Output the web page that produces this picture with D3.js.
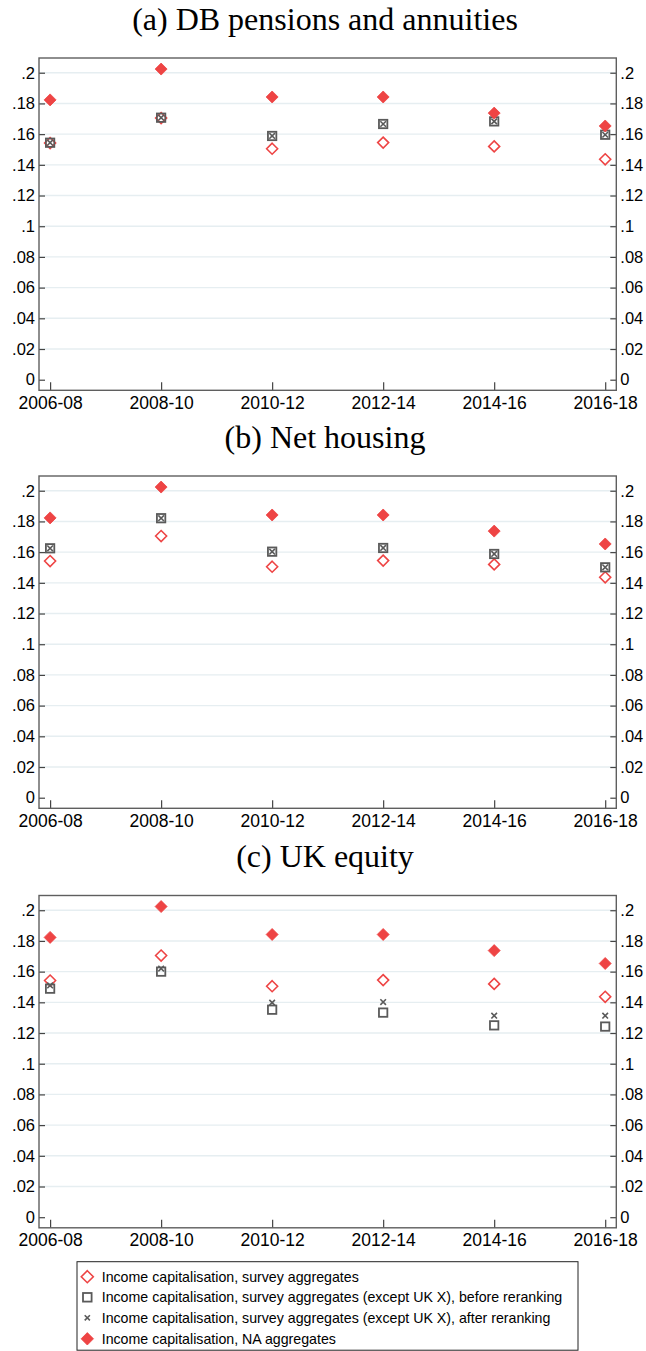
<!DOCTYPE html>
<html>
<head>
<meta charset="utf-8">
<script src="https://cdn.jsdelivr.net/npm/d3@7"></script>
<style>
  html, body { margin: 0; padding: 0; background: #fff; }
  svg { display: block; }
  .tick text { font-family: "Liberation Sans", Arial, sans-serif; fill: #000; }
</style>
</head>
<body>
<svg id="chart" width="646" height="1351"></svg>
<script>
// Period labels along the x axis
const periods = ["2006-08", "2008-10", "2010-12", "2012-14", "2014-16", "2016-18"];
// Y-axis tick values
const yTicks = [0, 0.02, 0.04, 0.06, 0.08, 0.1, 0.12, 0.14, 0.16, 0.18, 0.2];

// Series shared by all three panels
const surveyAgg = [0.1542, 0.1705, 0.1505, 0.1545, 0.1520, 0.1436];
const naAgg     = [0.1823, 0.2024, 0.1842, 0.1842, 0.1737, 0.1653];

// (a) DB pensions and annuities
const dbBefore = [0.1544, 0.1707, 0.1588, 0.1666, 0.1683, 0.1596];
const dbAfter  = [0.1544, 0.1707, 0.1588, 0.1666, 0.1683, 0.1596];
// (b) Net housing
const housingBefore = [0.1625, 0.1821, 0.1603, 0.1627, 0.1588, 0.1501];
const housingAfter  = [0.1625, 0.1821, 0.1603, 0.1627, 0.1588, 0.1501];
// (c) UK equity
const equityBefore = [0.1489, 0.1600, 0.1352, 0.1333, 0.1250, 0.1242];
const equityAfter  = [0.1510, 0.1620, 0.1398, 0.1402, 0.1313, 0.1313];

const panelTitles = ["(a) DB pensions and annuities", "(b) Net housing", "(c) UK equity"];
const legendLabels = [
  "Income capitalisation, survey aggregates",
  "Income capitalisation, survey aggregates (except UK X), before reranking",
  "Income capitalisation, survey aggregates (except UK X), after reranking",
  "Income capitalisation, NA aggregates"
];

const panels = [
  { title: panelTitles[0], before: dbBefore, after: dbAfter },
  { title: panelTitles[1], before: housingBefore, after: housingAfter },
  { title: panelTitles[2], before: equityBefore, after: equityAfter }
];

const RED = "#ee4444";
const GREY = "#5a5a5a";
const FRAME = "#5f5f5f";

const svg = d3.select("#chart");

const left = 39, right = 616.3, frameH = 332.3;
const tops = [58, 476, 895.5];

const x = d3.scaleLinear().domain([-0.1, 5.1]).range([left, right]);

const fmt = v => v === 0 ? "0" : v.toFixed(2).replace(/^0/, "").replace(/0$/, "");

// marker drawers
function diamond(g, cx, cy, r, filled) {
  g.append("path")
    .attr("d", `M${cx},${cy - r}L${cx + r},${cy}L${cx},${cy + r}L${cx - r},${cy}Z`)
    .attr("fill", filled ? RED : "none")
    .attr("stroke", RED)
    .attr("stroke-width", filled ? 0.8 : 1.6);
}
function square(g, cx, cy, h) {
  g.append("rect")
    .attr("x", cx - h).attr("y", cy - h)
    .attr("width", 2 * h).attr("height", 2 * h)
    .attr("fill", "none").attr("stroke", GREY).attr("stroke-width", 1.8);
}
function cross(g, cx, cy, h) {
  g.append("path")
    .attr("d", `M${cx - h},${cy - h}L${cx + h},${cy + h}M${cx - h},${cy + h}L${cx + h},${cy - h}`)
    .attr("fill", "none").attr("stroke", GREY).attr("stroke-width", 1.6);
}

panels.forEach((p, i) => {
  const top = tops[i], bottom = top + frameH;
  const y = d3.scaleLinear().domain([-0.0069, 0.2096]).range([bottom, top]);
  const g = svg.append("g");

  // panel title
  g.append("text")
    .attr("x", 325).attr("y", top - 28.5)
    .attr("text-anchor", "middle")
    .attr("font-family", "'Liberation Serif', 'Times New Roman', serif")
    .attr("font-size", 32)
    .text(p.title);

  // horizontal grid lines
  g.append("g").selectAll("line")
    .data(yTicks.filter(v => v > 0))
    .join("line")
    .attr("x1", left).attr("x2", right)
    .attr("y1", d => y(d)).attr("y2", d => y(d))
    .attr("stroke", "#e6eef1").attr("stroke-width", 1.4);

  // left axis
  const ya = g.append("g").attr("transform", `translate(${left},0)`)
    .call(d3.axisLeft(y).tickValues(yTicks).tickFormat(fmt).tickSize(-6).tickPadding(4));
  // right axis
  const yb = g.append("g").attr("transform", `translate(${right},0)`)
    .call(d3.axisRight(y).tickValues(yTicks).tickFormat(fmt).tickSize(-6).tickPadding(4));
  // bottom axis
  const xa = g.append("g").attr("transform", `translate(0,${bottom})`)
    .call(d3.axisBottom(x).tickValues(d3.range(periods.length)).tickFormat(d => periods[d]).tickSize(-8).tickPadding(6));

  [ya, yb, xa].forEach(a => {
    a.select(".domain").remove();
    a.selectAll(".tick line").attr("stroke", "#444").attr("stroke-width", 1.2);
  });
  ya.selectAll(".tick text").attr("font-size", 16.5);
  yb.selectAll(".tick text").attr("font-size", 16.5);
  xa.selectAll(".tick text").attr("font-size", 17.5);

  // frame
  g.append("rect")
    .attr("x", left).attr("y", top)
    .attr("width", right - left).attr("height", frameH)
    .attr("fill", "none").attr("stroke", FRAME).attr("stroke-width", 1.4);

  // markers, in legend order
  const m = g.append("g");
  surveyAgg.forEach((v, k) => diamond(m, x(k), y(v), 5.5, false));
  p.before.forEach((v, k) => square(m, x(k), y(v), 4.2));
  p.after.forEach((v, k) => cross(m, x(k), y(v), 2.8));
  naAgg.forEach((v, k) => diamond(m, x(k), y(v), 6, true));
});

// legend
const lg = svg.append("g");
lg.append("rect")
  .attr("x", 77).attr("y", 1261.7).attr("width", 501).attr("height", 88.5)
  .attr("fill", "#fff").attr("stroke", "#222").attr("stroke-width", 1);
const rowY = [1276.7, 1297.3, 1317.8, 1338.8];
const mx = 87.3;
diamond(lg, mx, rowY[0], 6, false);
square(lg, mx, rowY[1], 4.3);
cross(lg, mx, rowY[2], 2.6);
diamond(lg, mx, rowY[3], 6.2, true);
lg.selectAll("text.lab").data(legendLabels).join("text")
  .attr("class", "lab")
  .attr("x", 101.7).attr("y", (d, k) => rowY[k])
  .attr("dy", "0.36em")
  .attr("font-family", "'Liberation Sans', Arial, sans-serif")
  .attr("font-size", 14.2)
  .attr("fill", "#000")
  .text(d => d);
</script>
</body>
</html>
